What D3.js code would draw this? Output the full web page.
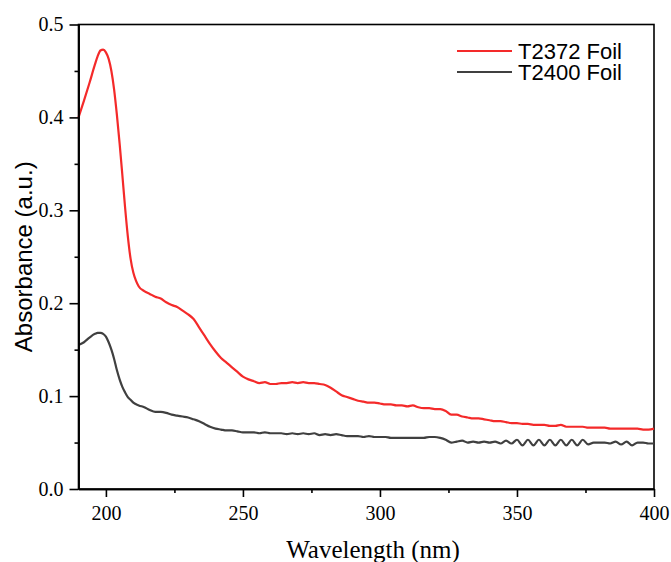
<!DOCTYPE html>
<html>
<head>
<meta charset="utf-8">
<script src="https://cdn.jsdelivr.net/npm/d3@7"></script>
<style>
  body { margin: 0; background: #fff; }
  .tick text { font-family: "Liberation Serif", "Times New Roman", serif; font-size: 20px; fill: #000; }
  .axis path, .axis line { stroke: #000; stroke-width: 1.6; }
</style>
</head>
<body>
<div class="absChart"></div>
<script>
// ----- DATA ------------------------------------------------------------
const seriesNames = ["T2372 Foil", "T2400 Foil"];
const seriesColours = ["#f42a2a", "#404040"];

const xMajorTicks = [200, 250, 300, 350, 400];
const xMinorTicks = [225, 275, 325, 375];
const yMajorTicks = [0.0, 0.1, 0.2, 0.3, 0.4, 0.5];
const yMinorTicks = [0.05, 0.15, 0.25, 0.35, 0.45];

const redWavelength = [
    190, 192, 194, 196, 197, 198, 199, 200, 201, 202, 203, 204, 205, 206, 207, 208, 209, 210, 211, 212,
    214, 216, 218, 220, 222, 224, 226, 228, 230, 232, 234, 236, 238, 240, 242, 244, 246, 248, 250, 252,
    254, 256, 258, 260, 262, 264, 266, 268, 270, 272, 274, 276, 278, 280, 282, 284, 286, 288, 290, 292,
    294, 296, 298, 300, 302, 304, 306, 308, 310, 312, 314, 316, 318, 320, 322, 324, 326, 328, 330, 332,
    334, 336, 338, 340, 342, 344, 346, 348, 350, 352, 354, 356, 358, 360, 362, 364, 366, 368, 370, 372,
    374, 376, 378, 380, 382, 384, 386, 388, 390, 392, 394, 396, 398, 400
];
const redAbsorbance = [
    0.400, 0.418, 0.437, 0.457, 0.466, 0.472, 0.473, 0.470, 0.463, 0.450, 0.430, 0.403, 0.372, 0.338, 0.303, 0.272, 0.248, 0.233, 0.224, 0.218,
    0.213, 0.210, 0.207, 0.205, 0.201, 0.198, 0.196, 0.192, 0.188, 0.183, 0.174, 0.165, 0.156, 0.148, 0.141, 0.136, 0.131, 0.126, 0.121, 0.118,
    0.116, 0.114, 0.115, 0.113, 0.113, 0.114, 0.114, 0.115, 0.114, 0.115, 0.114, 0.114, 0.113, 0.112, 0.109, 0.105, 0.101, 0.099, 0.097, 0.095,
    0.094, 0.093, 0.093, 0.092, 0.091, 0.091, 0.090, 0.090, 0.089, 0.090, 0.088, 0.087, 0.087, 0.086, 0.086, 0.084, 0.080, 0.080, 0.078, 0.077,
    0.076, 0.076, 0.075, 0.074, 0.073, 0.073, 0.072, 0.071, 0.071, 0.070, 0.070, 0.069, 0.069, 0.069, 0.068, 0.068, 0.069, 0.067, 0.067, 0.067,
    0.067, 0.066, 0.066, 0.066, 0.066, 0.065, 0.065, 0.065, 0.065, 0.065, 0.065, 0.064, 0.064, 0.065
];

const blackWavelength = [
    190, 192, 194, 196, 197, 198, 199, 200, 201, 202, 203, 204, 205, 206, 207, 208, 209, 210, 212, 214,
    216, 218, 220, 222, 224, 226, 228, 230, 232, 234, 236, 238, 240, 242, 244, 246, 248, 250, 252, 254,
    256, 258, 260, 262, 264, 266, 268, 270, 272, 274, 276, 278, 280, 282, 284, 286, 288, 290, 292, 294,
    296, 298, 300, 302, 304, 306, 308, 310, 312, 314, 316, 318, 320, 322, 324, 326, 328, 330, 332, 334,
    336, 338, 340, 342, 344, 346, 348, 350, 352, 354, 356, 358, 360, 362, 364, 366, 368, 370, 372, 374,
    376, 378, 380, 382, 384, 386, 388, 390, 392, 394, 396, 398, 400
];
const blackAbsorbance = [
    0.155, 0.158, 0.163, 0.167, 0.168, 0.168, 0.167, 0.164, 0.158, 0.150, 0.140, 0.128, 0.118, 0.110, 0.104, 0.099, 0.096, 0.093, 0.090, 0.088,
    0.085, 0.083, 0.083, 0.082, 0.080, 0.079, 0.078, 0.077, 0.075, 0.073, 0.070, 0.067, 0.065, 0.064, 0.063, 0.063, 0.062, 0.061, 0.061, 0.061,
    0.060, 0.061, 0.060, 0.060, 0.060, 0.059, 0.060, 0.059, 0.060, 0.059, 0.060, 0.058, 0.059, 0.058, 0.059, 0.058, 0.057, 0.057, 0.057, 0.056,
    0.057, 0.056, 0.056, 0.056, 0.055, 0.055, 0.055, 0.055, 0.055, 0.055, 0.055, 0.056, 0.056, 0.055, 0.053, 0.050, 0.051, 0.052, 0.050, 0.051,
    0.050, 0.051, 0.050, 0.051, 0.049, 0.052, 0.049, 0.053, 0.047, 0.053, 0.047, 0.053, 0.047, 0.053, 0.047, 0.053, 0.047, 0.053, 0.047, 0.053,
    0.048, 0.050, 0.050, 0.050, 0.049, 0.051, 0.048, 0.051, 0.047, 0.050, 0.050, 0.049, 0.049
];

// ----- CHART -----------------------------------------------------------
function _drawAbsorbanceChart()
{
    const width = 671;
    const height = 562;

    const margin = {
        top: 24.5,
        bottom: 73,
        left: 78.5,
        right: 17
    };
    const innerWidth = width - margin.left - margin.right;
    const innerHeight = height - margin.top - margin.bottom;

    const svg = d3.select(".absChart").append("svg")
                .attr("width", width)
                .attr("height", height);

    const chart = svg.append("g")
                .attr("transform", "translate(" + margin.left + "," + margin.top + ")");

    const x = d3.scaleLinear()
        .domain([190, 400])
        .range([0, innerWidth]);

    const y = d3.scaleLinear()
        .domain([0, 0.5])
        .range([innerHeight, 0]);

    const series = [
        { name: seriesNames[0], colour: seriesColours[0],
          points: redWavelength.map((w, i) => [w, redAbsorbance[i]]) },
        { name: seriesNames[1], colour: seriesColours[1],
          points: blackWavelength.map((w, i) => [w, blackAbsorbance[i]]) }
    ];

    const line = d3.line()
        .x(d => x(d[0]))
        .y(d => y(d[1]))
        .curve(d3.curveMonotoneX);

    // frame (top & right borders)
    chart.append("rect")
        .attr("x", 0)
        .attr("y", 0)
        .attr("width", innerWidth)
        .attr("height", innerHeight)
        .attr("fill", "none")
        .attr("stroke", "#000")
        .attr("stroke-width", 1.6);

    // curves
    chart.selectAll(".absChart__line")
        .data(series)
        .enter()
            .append("path")
            .classed("absChart__line", true)
            .attr("d", d => line(d.points))
            .attr("fill", "none")
            .attr("stroke", d => d.colour)
            .attr("stroke-width", 2.2)
            .attr("stroke-linejoin", "round");

    // axes: majors with labels, minors without
    chart.append("g")
        .classed("axis", true)
        .attr("transform", "translate(0," + innerHeight + ")")
        .call(d3.axisBottom(x).tickValues(xMajorTicks).tickSize(8).tickPadding(9).tickSizeOuter(0));

    chart.append("g")
        .classed("axis", true)
        .attr("transform", "translate(0," + innerHeight + ")")
        .call(d3.axisBottom(x).tickValues(xMinorTicks).tickSize(4).tickFormat("").tickSizeOuter(0));

    chart.append("g")
        .classed("axis", true)
        .call(d3.axisLeft(y).tickValues(yMajorTicks).tickSize(9).tickPadding(6)
            .tickFormat(d3.format(".1f")).tickSizeOuter(0));

    chart.append("g")
        .classed("axis", true)
        .call(d3.axisLeft(y).tickValues(yMinorTicks).tickSize(4).tickFormat("").tickSizeOuter(0));

    // axis titles
    svg.append("text")
        .text("Wavelength (nm)")
        .attr("x", 373)
        .attr("y", 558)
        .attr("text-anchor", "middle")
        .attr("font-family", "'Liberation Serif', 'Times New Roman', serif")
        .attr("font-size", 25)
        .attr("fill", "#000");

    svg.append("text")
        .text("Absorbance (a.u.)")
        .attr("transform", "translate(32," + (margin.top + innerHeight / 2) + ") rotate(-90)")
        .attr("text-anchor", "middle")
        .attr("font-family", "'Liberation Sans', Arial, sans-serif")
        .attr("font-size", 24)
        .attr("fill", "#000");

    // legend
    const legend = svg.append("g")
        .attr("transform", "translate(457,51)");

    const items = legend.selectAll(".absChart__legendItem")
        .data(series)
        .enter()
            .append("g")
            .attr("transform", (d, i) => "translate(0," + (i * 21) + ")");

    items.append("line")
        .attr("x1", 0)
        .attr("x2", 55)
        .attr("y1", 0)
        .attr("y2", 0)
        .attr("stroke", d => d.colour)
        .attr("stroke-width", 2.2);

    items.append("text")
        .text(d => d.name)
        .attr("x", 61)
        .attr("y", 7.5)
        .attr("font-family", "'Liberation Sans', Arial, sans-serif")
        .attr("font-size", 22)
        .attr("fill", "#000");
}

_drawAbsorbanceChart();
</script>
</body>
</html>
